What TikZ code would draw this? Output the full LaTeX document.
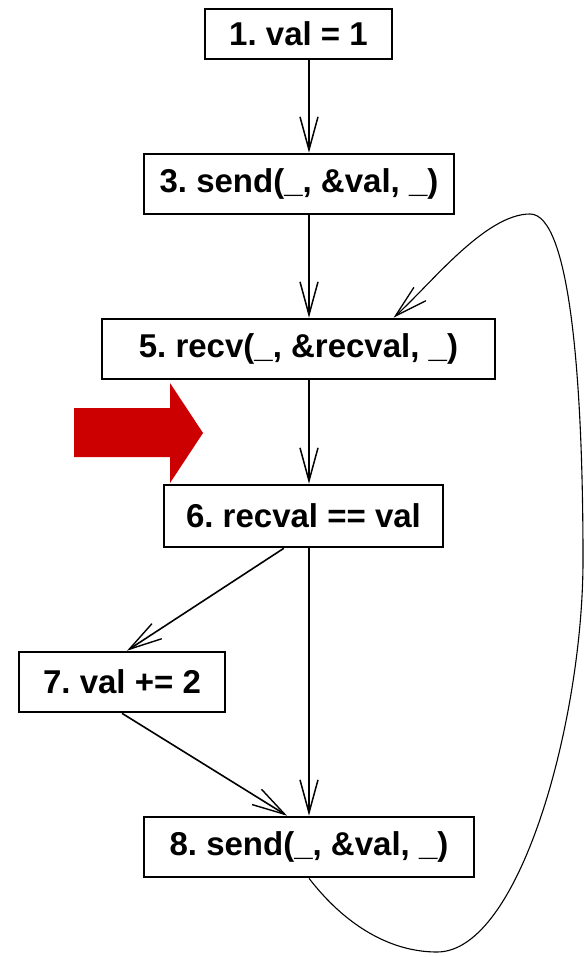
\documentclass[tikz,border=0pt]{standalone}
\usepackage{fontspec}
\setmainfont{Liberation Sans}
\usetikzlibrary{arrows.meta,calc}
\frenchspacing

\begin{document}
\begin{tikzpicture}[x=1pt,y=-1pt,
        stmt/.style={draw, line width=2.6pt, inner sep=0pt, minimum height=60pt,
            font=\fontsize{33}{38}\selectfont\bfseries},
        flow/.style={line width=2.5pt, -{Straight Barb[length=33pt,width=18pt,line width=1.5pt]}},
        branch/.style={line width=1.6pt, -{Straight Barb[length=33pt,width=18pt,line width=1.4pt]}},
        loopback/.style={line width=1.1pt, -{Straight Barb[length=33pt,width=18pt,line width=1.3pt]}}]

    \useasboundingbox (0,0) rectangle (585,957);

    % statements of the program
    \node[stmt, minimum width=187pt, minimum height=50pt] (n1) at (298.5,34) {1. val = 1};
    \node[stmt, minimum width=310pt] (n3) at (299,184) {3. send(\_, \&val, \_)};
    \node[stmt, minimum width=393pt] (n5) at (298.5,349) {5. recv(\_, \&recval, \_)};
    \node[stmt, minimum width=279pt, minimum height=62pt] (n6) at (303.5,516) {6. recval == val};
    \node[stmt, minimum width=206pt] (n7) at (122,682) {7. val += 2};
    \node[stmt, minimum width=330pt] (n8) at (309,847) {8. send(\_, \&val, \_)};

    \coordinate (spine) at (309,0);

    % straight line flow
    \draw[flow] (n1.south -| spine) -- (n3.north -| spine);
    \draw[flow] (n3.south -| spine) -- (n5.north -| spine);
    \draw[flow] (n5.south -| spine) -- (n6.north -| spine);
    \draw[flow] (n6.south -| spine) -- (n8.north -| spine);

    % the branch through 7
    \draw[branch] ($(n6.south west)!0.43!(n6.south east)$) -- ($(n7.north)+(5,0)$);
    \draw[branch] (n7.south) -- ($(n8.north west)!0.434!(n8.north east)$);

    % back edge from 8 to 5
    \coordinate (low) at (437,952);
    \coordinate (right) at (583,560);
    \coordinate (top) at (530,214);
    \draw[loopback] (n8.south) .. controls (345,925) and (390,952) .. (low)
        .. controls (520,952) and (583,720) .. (right)
        .. controls (583,380) and (570,214) .. (top)
        .. controls (485,214) and (430,285) .. ($(n5.north)+(95,0)$);

    % marker arrow
    \fill[red!80!black] (74,408) -- (170,408) -- (170,383) -- (203,433)
        -- (170,483) -- (170,457) -- (74,457) -- cycle;

\end{tikzpicture}
\end{document}
